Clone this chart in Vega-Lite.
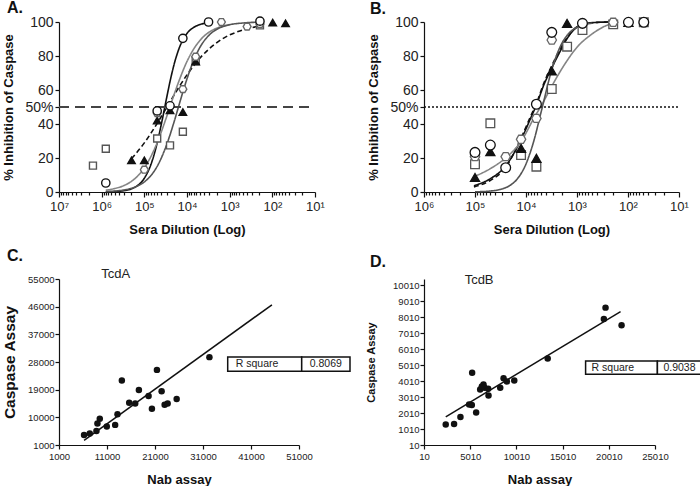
{
"$schema":"https://vega.github.io/schema/vega-lite/v6.json",
"padding":{"left":2,"top":0,"right":0,"bottom":0},
"background":"white",
"config":{"font":"Liberation Sans","view":{"stroke":null},
"axis":{"grid":false,"domainColor":"#111","domainWidth":1.2,"tickColor":"#111","tickWidth":1.2,"labelColor":"#222","titleColor":"#111","titleFontWeight":"bold","labelFont":"Liberation Sans","titleFont":"Liberation Sans"},
"title":{"font":"Liberation Sans","fontWeight":"bold","color":"#111"}},
"datasets":{
"A_curves":[
{"s":"c1","x":800000,"y":0.09},{"s":"c1","x":500000,"y":0.25},{"s":"c1","x":300000,"y":0.78},{"s":"c1","x":200000,"y":1.88},{"s":"c1","x":150000,"y":3.48},{"s":"c1","x":100000,"y":8.1},{"s":"c1","x":70000,"y":16.2},{"s":"c1","x":50000,"y":28.8},{"s":"c1","x":40000,"y":39.8},{"s":"c1","x":30000,"y":55.4},{"s":"c1","x":25000,"y":65.0},{"s":"c1","x":20000,"y":75.2},{"s":"c1","x":15000,"y":85.1},{"s":"c1","x":10000,"y":93.3},{"s":"c1","x":7000,"y":96.8},{"s":"c1","x":5000,"y":98.5},{"s":"c1","x":3000,"y":99.5},
{"s":"c2","x":200000,"y":19.6},{"s":"c2","x":150000,"y":23.2},{"s":"c2","x":100000,"y":28.9},{"s":"c2","x":70000,"y":34.6},{"s":"c2","x":50000,"y":40.4},{"s":"c2","x":30000,"y":49.7},{"s":"c2","x":20000,"y":57.1},{"s":"c2","x":15000,"y":62.2},{"s":"c2","x":10000,"y":68.9},{"s":"c2","x":7000,"y":74.2},{"s":"c2","x":5000,"y":78.7},{"s":"c2","x":3000,"y":84.3},{"s":"c2","x":2000,"y":87.9},{"s":"c2","x":1000,"y":92.4},{"s":"c2","x":700,"y":94.0},{"s":"c2","x":500,"y":95.3},{"s":"c2","x":300,"y":96.7},{"s":"c2","x":200,"y":97.5},
{"s":"c3","x":800000,"y":1.1},{"s":"c3","x":500000,"y":2.0},{"s":"c3","x":300000,"y":3.8},{"s":"c3","x":200000,"y":6.3},{"s":"c3","x":150000,"y":8.9},{"s":"c3","x":100000,"y":14.2},{"s":"c3","x":70000,"y":20.9},{"s":"c3","x":50000,"y":29.0},{"s":"c3","x":30000,"y":44.3},{"s":"c3","x":20000,"y":57.4},{"s":"c3","x":15000,"y":66.1},{"s":"c3","x":10000,"y":76.8},{"s":"c3","x":7000,"y":84.0},{"s":"c3","x":5000,"y":89.1},{"s":"c3","x":3000,"y":94.1},{"s":"c3","x":2000,"y":96.4},{"s":"c3","x":1000,"y":98.5},
{"s":"c4","x":800000,"y":0.28},{"s":"c4","x":500000,"y":0.56},{"s":"c4","x":300000,"y":1.2},{"s":"c4","x":200000,"y":2.18},{"s":"c4","x":150000,"y":3.32},{"s":"c4","x":100000,"y":5.93},{"s":"c4","x":70000,"y":9.7},{"s":"c4","x":50000,"y":15.1},{"s":"c4","x":30000,"y":27.8},{"s":"c4","x":20000,"y":41.4},{"s":"c4","x":15000,"y":52.1},{"s":"c4","x":10000,"y":66.6},{"s":"c4","x":7000,"y":77.3},{"s":"c4","x":5000,"y":85.0},{"s":"c4","x":3000,"y":92.4},{"s":"c4","x":2000,"y":95.7},{"s":"c4","x":1000,"y":98.4},{"s":"c4","x":500,"y":99.4},{"s":"c4","x":200,"y":99.9}
],
"A_pts":[
{"s":"sq","x":1600000,"y":15.5},{"s":"sq","x":800000,"y":25.4},{"s":"sq","x":50000,"y":31.5},{"s":"sq","x":25000,"y":27.4},{"s":"sq","x":12500,"y":35.4},{"s":"sq","x":6250,"y":77},{"s":"sq","x":195,"y":98},
{"s":"tri","x":200000,"y":18.6},{"s":"tri","x":100000,"y":18.6},{"s":"tri","x":50000,"y":42},{"s":"tri","x":25000,"y":48},{"s":"tri","x":12500,"y":47},{"s":"tri","x":6250,"y":76.7},{"s":"tri","x":98,"y":99.6},{"s":"tri","x":49,"y":99.2},
{"s":"hex","x":100000,"y":13.1},{"s":"hex","x":50000,"y":46.4},{"s":"hex","x":12500,"y":60.5},{"s":"hex","x":6250,"y":79.6},{"s":"hex","x":1563,"y":100},{"s":"hex","x":390,"y":97.3},{"s":"hex","x":195,"y":98.8},
{"s":"circ","x":800000,"y":5.3},{"s":"circ","x":50000,"y":47.7},{"s":"circ","x":25000,"y":50.7},{"s":"circ","x":12500,"y":90.4},{"s":"circ","x":3125,"y":100},{"s":"circ","x":195,"y":100.5}
],
"A_ref":[{"x":10000000,"x2":10,"y":50}],
"B_ref":[{"x":1000000,"x2":10,"y":50}],
"B_curves":[
{"s":"b1","x":105000,"y":3.7},{"s":"b1","x":49000,"y":8},{"s":"b1","x":25700,"y":14.9},{"s":"b1","x":12600,"y":30.6},{"s":"b1","x":8130,"y":43.3},{"s":"b1","x":6170,"y":51.6},{"s":"b1","x":4470,"y":63},{"s":"b1","x":3160,"y":72.7},{"s":"b1","x":2240,"y":81.6},{"s":"b1","x":1550,"y":90.4},{"s":"b1","x":1070,"y":96.3},{"s":"b1","x":724,"y":98.6},{"s":"b1","x":398,"y":99.8},{"s":"b1","x":219,"y":100},
{"s":"b2","x":105000,"y":3},{"s":"b2","x":49000,"y":7},{"s":"b2","x":25700,"y":14},{"s":"b2","x":12600,"y":31.5},{"s":"b2","x":8130,"y":44.5},{"s":"b2","x":6170,"y":52.5},{"s":"b2","x":4470,"y":64},{"s":"b2","x":3160,"y":74},{"s":"b2","x":2240,"y":83},{"s":"b2","x":1550,"y":91},{"s":"b2","x":1070,"y":96.5},{"s":"b2","x":724,"y":98.8},{"s":"b2","x":398,"y":99.8},{"s":"b2","x":219,"y":100},
{"s":"b3","x":105000,"y":9},{"s":"b3","x":49000,"y":13.9},{"s":"b3","x":25700,"y":19.8},{"s":"b3","x":12600,"y":29.6},{"s":"b3","x":6460,"y":45.3},{"s":"b3","x":5130,"y":50.2},{"s":"b3","x":3160,"y":62},{"s":"b3","x":1780,"y":74.7},{"s":"b3","x":977,"y":85.5},{"s":"b3","x":537,"y":92.4},{"s":"b3","x":295,"y":97.3},{"s":"b3","x":204,"y":99.2},
{"s":"b4","x":100000,"y":0.12},{"s":"b4","x":70000,"y":0.27},{"s":"b4","x":50000,"y":0.57},{"s":"b4","x":30000,"y":1.74},{"s":"b4","x":20000,"y":4.13},{"s":"b4","x":15000,"y":7.5},{"s":"b4","x":10000,"y":16.5},{"s":"b4","x":7000,"y":30.2},{"s":"b4","x":5000,"y":47.6},{"s":"b4","x":3000,"y":73.7},{"s":"b4","x":2000,"y":87.2},{"s":"b4","x":1500,"y":92.8},{"s":"b4","x":1000,"y":96.9},{"s":"b4","x":700,"y":98.6},{"s":"b4","x":500,"y":99.3}
],
"B_pts":[
{"s":"gtri","x":100000,"y":16.3},{"s":"gtri","x":50000,"y":40.4},{"s":"gtri","x":12500,"y":21.8},{"s":"gtri","x":6250,"y":14.9},{"s":"gtri","x":3125,"y":60.6},{"s":"gtri","x":1563,"y":85.5},{"s":"gtri","x":781,"y":95.3},{"s":"gtri","x":195,"y":98.6},{"s":"gtri","x":49,"y":99.8},
{"s":"gcirc","x":100000,"y":8.6},{"s":"gcirc","x":50000,"y":23.7},{"s":"gcirc","x":12500,"y":25.7},{"s":"gcirc","x":6250,"y":19.8},{"s":"gcirc","x":3125,"y":71.2},{"s":"gcirc","x":1563,"y":99.2},{"s":"gcirc","x":98,"y":99.8},
{"s":"sqd","x":100000,"y":20.8},{"s":"sqd","x":25000,"y":20.8},{"s":"sqd","x":12500,"y":31},{"s":"sqd","x":6250,"y":43.3},{"s":"sqd","x":3125,"y":89.4},{"s":"sqd","x":781,"y":99.2},{"s":"sqd","x":195,"y":99.8},
{"s":"ast","x":100000,"y":23.3},{"s":"ast","x":50000,"y":27.6},{"s":"ast","x":25000,"y":14.3},{"s":"ast","x":6250,"y":51.6},{"s":"ast","x":3125,"y":93.9},{"s":"ast","x":781,"y":99.2},{"s":"ast","x":98,"y":99.8},{"s":"ast","x":49,"y":99.8}
],
"C_pts":[
{"x":6223,"y":4273},{"x":7407,"y":4709},{"x":8800,"y":5582},{"x":9008,"y":7982},{"x":9496,"y":9510},{"x":10958,"y":7000},{"x":12700,"y":7546},{"x":13187,"y":11037},{"x":14092,"y":21947},{"x":15624,"y":14746},{"x":16878,"y":14528},{"x":17644,"y":18892},{"x":19664,"y":16929},{"x":20360,"y":12783},{"x":21405,"y":25438},{"x":22380,"y":18456},{"x":23007,"y":14092},{"x":23633,"y":14528},{"x":25513,"y":15946},{"x":32338,"y":29584}
],
"C_fit":[{"x":6223,"y":2527},{"x":45360,"y":46604}],
"C_box":[{"x":36146,"x2":51563,"y":29626,"y2":24975,"label":"R square"},{"x":51563,"x2":61625,"y":29626,"y2":24975,"label":"0.8069"}],
"C_note":[{"x":12812,"y":55400,"label":"TcdA"}],
"D_pts":[
{"x":2362,"y":1286},{"x":3266,"y":1328},{"x":3954,"y":1767},{"x":4894,"y":2541},{"x":5184,"y":2520},{"x":5220,"y":4529},{"x":5654,"y":2039},{"x":6088,"y":3483},{"x":6269,"y":3671},{"x":6450,"y":3797},{"x":6559,"y":3587},{"x":6993,"y":3106},{"x":6957,"y":3524},{"x":8259,"y":3587},{"x":8621,"y":4194},{"x":8983,"y":3985},{"x":9779,"y":4048},{"x":13397,"y":5428},{"x":19475,"y":7897},{"x":19656,"y":8608},{"x":21393,"y":7499}
],
"D_fit":[{"x":2362,"y":1767},{"x":21284,"y":8357}],
"D_box":[{"x":17499,"x2":25270,"y":5270,"y2":4437,"label":"R square"},{"x":25270,"x2":30140,"y":5270,"y2":4437,"label":"0.9038"}],
"D_note":[{"x":5973,"y":10060,"label":"TcdB"}]
},
"columns":2,
"spacing":{"row":87,"column":109},
"bounds":"flush",
"concat":[
{"width":256,"height":170,
"title":{"text":"A.","anchor":"start","frame":"group","dx":-52,"fontSize":16,"offset":-2},
"encoding":{
"x":{"field":"x","type":"quantitative","title":"Sera Dilution (Log)","scale":{"type":"log","domain":[10,10000000],"reverse":true,"nice":false},
"axis":{"values":[10,20,30,40,50,60,70,80,90,100,200,300,400,500,600,700,800,900,1000,2000,3000,4000,5000,6000,7000,8000,9000,10000,20000,30000,40000,50000,60000,70000,80000,90000,100000,200000,300000,400000,500000,600000,700000,800000,900000,1000000,2000000,3000000,4000000,5000000,6000000,7000000,8000000,9000000,10000000],
"labelExpr":"abs(log(datum.value)/LN10-round(log(datum.value)/LN10))<0.01?'10'+['⁰','¹','²','³','⁴','⁵','⁶','⁷'][round(log(datum.value)/LN10)]:''",
"labelOverlap":false,"labelFlush":false,"labelFontSize":13,"labelPadding":3,
"tickSize":{"condition":{"test":"abs(log(datum.value)/LN10-round(log(datum.value)/LN10))<0.01","value":5},"value":3},
"titleFontSize":13,"titlePadding":10}},
"y":{"field":"y","type":"quantitative","title":"% Inhibition of Caspase","scale":{"domain":[0,100],"nice":false,"zero":false},
"axis":{"values":[0,20,40,50,60,80,100],"labelExpr":"datum.value==50?'50%':datum.label","labelFontSize":14,"tickSize":4,"labelPadding":2,"titleFontSize":13,"titlePadding":9}}
},
"layer":[
{"data":{"name":"A_curves"},"mark":{"type":"line","interpolate":"monotone"},
"encoding":{
"color":{"field":"s","type":"nominal","scale":{"domain":["c1","c2","c3","c4"],"range":["#111111","#111111","#858585","#555555"]},"legend":null},
"strokeDash":{"field":"s","type":"nominal","scale":{"domain":["c1","c2","c3","c4"],"range":[[1,0],[5,3],[1,0],[1,0]]},"legend":null},
"strokeWidth":{"field":"s","type":"nominal","scale":{"domain":["c1","c2","c3","c4"],"range":[1.6,1.6,1,1]},"legend":null}}},
{"data":{"name":"A_ref"},"mark":{"type":"rule","color":"#444","strokeWidth":2,"strokeDash":[10,6]},
"encoding":{"x2":{"field":"x2"}}},
{"data":{"name":"A_pts"},"mark":{"type":"point","opacity":1,"strokeWidth":1.4},
"encoding":{
"shape":{"field":"s","type":"nominal","scale":{"domain":["sq","tri","hex","circ"],"range":["square","triangle-up","M-1,0L-0.5,-0.866L0.5,-0.866L1,0L0.5,0.866L-0.5,0.866Z","circle"]},"legend":null},
"stroke":{"field":"s","type":"nominal","scale":{"domain":["sq","tri","hex","circ"],"range":["#555555","#111111","#666666","#111111"]},"legend":null},
"fill":{"field":"s","type":"nominal","scale":{"domain":["sq","tri","hex","circ"],"range":["#ffffff","#111111","#ffffff","#ffffff"]},"legend":null},
"size":{"field":"s","type":"nominal","scale":{"domain":["sq","tri","hex","circ"],"range":[49,95,75,85]},"legend":null}}}
]},
{"width":255,"height":170,
"title":{"text":"B.","anchor":"start","frame":"group","dx":-54,"fontSize":16,"offset":-2},
"encoding":{
"x":{"field":"x","type":"quantitative","title":"Sera Dilution (Log)","scale":{"type":"log","domain":[10,1000000],"reverse":true,"nice":false},
"axis":{"values":[10,20,30,40,50,60,70,80,90,100,200,300,400,500,600,700,800,900,1000,2000,3000,4000,5000,6000,7000,8000,9000,10000,20000,30000,40000,50000,60000,70000,80000,90000,100000,200000,300000,400000,500000,600000,700000,800000,900000,1000000],
"labelExpr":"abs(log(datum.value)/LN10-round(log(datum.value)/LN10))<0.01?'10'+['⁰','¹','²','³','⁴','⁵','⁶','⁷'][round(log(datum.value)/LN10)]:''",
"labelOverlap":false,"labelFlush":false,"labelFontSize":13,"labelPadding":3,
"tickSize":{"condition":{"test":"abs(log(datum.value)/LN10-round(log(datum.value)/LN10))<0.01","value":5},"value":3},
"titleFontSize":13,"titlePadding":10}},
"y":{"field":"y","type":"quantitative","title":"% Inhibition of Caspase","scale":{"domain":[0,100],"nice":false,"zero":false},
"axis":{"values":[0,20,40,50,60,80,100],"labelExpr":"datum.value==50?'50%':datum.label","labelFontSize":14,"tickSize":4,"labelPadding":2,"titleFontSize":13,"titlePadding":9}}
},
"layer":[
{"data":{"name":"B_curves"},"mark":{"type":"line","interpolate":"monotone"},
"encoding":{
"color":{"field":"s","type":"nominal","scale":{"domain":["b1","b2","b3","b4"],"range":["#111111","#222222","#7a7a7a","#444444"]},"legend":null},
"strokeDash":{"field":"s","type":"nominal","scale":{"domain":["b1","b2","b3","b4"],"range":[[1,0],[7,3],[8,5],[1,0]]},"legend":null},
"strokeWidth":{"field":"s","type":"nominal","scale":{"domain":["b1","b2","b3","b4"],"range":[2.2,2.2,2,1]},"legend":null}}},
{"data":{"name":"B_ref"},"mark":{"type":"rule","color":"#111","strokeWidth":1.5,"strokeDash":[2,2]},
"encoding":{"x2":{"field":"x2"}}},
{"data":{"name":"B_pts"},"mark":{"type":"point","opacity":1,"strokeWidth":1.3},
"encoding":{
"shape":{"field":"s","type":"nominal","scale":{"domain":["gtri","gcirc","sqd","ast"],"range":["triangle-up","circle","M-1,-1L1,-1L1,1L-1,1Z M-0.3,-0.3L0.3,-0.3L0.3,0.3L-0.3,0.3Z","M-1,0A1,1,0,1,0,1,0A1,1,0,1,0,-1,0Z M0,-0.75L0,0.75M-0.65,-0.375L0.65,0.375M-0.65,0.375L0.65,-0.375"]},"legend":null},
"stroke":{"field":"s","type":"nominal","scale":{"domain":["gtri","gcirc","sqd","ast"],"range":["#6e6e6e","#777777","#222222","#222222"]},"legend":null},
"fill":{"field":"s","type":"nominal","scale":{"domain":["gtri","gcirc","sqd","ast"],"range":["#6e6e6e","#ffffff","#ffffff","#ffffff"]},"legend":null},
"size":{"field":"s","type":"nominal","scale":{"domain":["gtri","gcirc","sqd","ast"],"range":[100,100,45,75]},"legend":null}}}
]},
{"width":240,"height":166,
"title":{"text":"C.","anchor":"start","frame":"group","dx":-52,"fontSize":16,"offset":4},
"encoding":{
"x":{"field":"x","type":"quantitative","title":"Nab assay","scale":{"domain":[1000,51000],"nice":false,"zero":false},
"axis":{"values":[1000,11000,21000,31000,41000,51000],"format":"d","labelFlush":false,"labelFontSize":9.5,"tickSize":4,"labelPadding":2,"titleFontSize":13,"titlePadding":13}},
"y":{"field":"y","type":"quantitative","title":"Caspase Assay","scale":{"domain":[1000,55000],"nice":false,"zero":false},
"axis":{"values":[1000,10000,19000,28000,37000,46000,55000],"format":"d","labelFontSize":9.5,"tickSize":4,"labelPadding":1,"titleFontSize":15.5,"titlePadding":10}}
},
"layer":[
{"data":{"name":"C_fit"},"mark":{"type":"line","color":"#111","strokeWidth":1.5}},
{"data":{"name":"C_pts"},"mark":{"type":"circle","color":"#111","opacity":1,"size":42}},
{"data":{"name":"C_box"},"mark":{"type":"rect","fill":"white","stroke":"#111","strokeWidth":1.5},"encoding":{"x2":{"field":"x2"},"y2":{"field":"y2"}}},
{"data":{"name":"C_box"},"mark":{"type":"text","align":"left","baseline":"middle","dx":8,"dy":7,"fontSize":10.5,"color":"#222"},"encoding":{"text":{"field":"label"}}},
{"data":{"name":"C_note"},"mark":{"type":"text","align":"center","baseline":"alphabetic","fontSize":13,"color":"#222"},"encoding":{"text":{"field":"label"}}}
]},
{"width":231,"height":166,
"title":{"text":"D.","anchor":"start","frame":"group","dx":-54,"fontSize":16,"offset":4},
"encoding":{
"x":{"field":"x","type":"quantitative","title":"Nab assay","scale":{"domain":[10,25010],"nice":false,"zero":false},
"axis":{"values":[10,5010,10010,15010,20010,25010],"format":"d","labelFlush":false,"labelFontSize":9.5,"tickSize":4,"labelPadding":2,"titleFontSize":13,"titlePadding":13}},
"y":{"field":"y","type":"quantitative","title":"Caspase Assay","scale":{"domain":[10,10400],"nice":false,"zero":false},
"axis":{"values":[10,1010,2010,3010,4010,5010,6010,7010,8010,9010,10010],"format":"d","labelFontSize":9.5,"tickSize":4,"labelPadding":1,"titleFontSize":11,"titlePadding":16}}
},
"layer":[
{"data":{"name":"D_fit"},"mark":{"type":"line","color":"#111","strokeWidth":1.5}},
{"data":{"name":"D_pts"},"mark":{"type":"circle","color":"#111","opacity":1,"size":42}},
{"data":{"name":"D_box"},"mark":{"type":"rect","fill":"white","stroke":"#111","strokeWidth":1.5},"encoding":{"x2":{"field":"x2"},"y2":{"field":"y2"}}},
{"data":{"name":"D_box"},"mark":{"type":"text","align":"left","baseline":"middle","dx":6,"dy":7,"fontSize":10.5,"color":"#222"},"encoding":{"text":{"field":"label"}}},
{"data":{"name":"D_note"},"mark":{"type":"text","align":"center","baseline":"alphabetic","fontSize":13,"color":"#222"},"encoding":{"text":{"field":"label"}}}
]}
]
}
